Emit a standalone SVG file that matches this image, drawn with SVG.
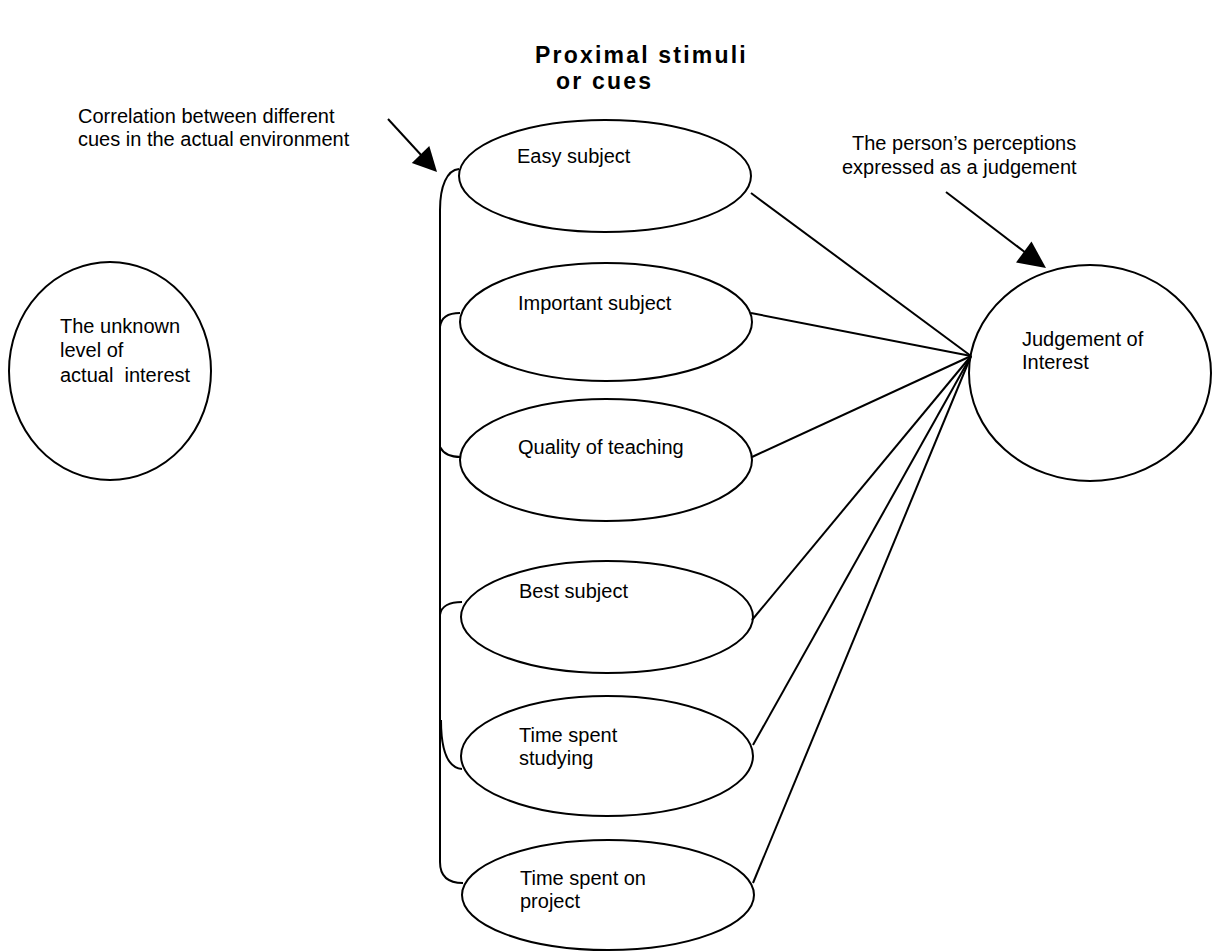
<svg xmlns="http://www.w3.org/2000/svg" width="1212" height="952" viewBox="0 0 1212 952">
<style>
.shape{fill:none;stroke:#000;stroke-width:2}
.ln{fill:none;stroke:#000;stroke-width:2}
.t{font-family:"Liberation Sans",Arial,sans-serif;font-size:20px;fill:#000}
.title{font-family:"Liberation Sans",Arial,sans-serif;font-size:23px;font-weight:bold;letter-spacing:2.2px;fill:#000}
.head{fill:#000;stroke:none}
</style>
<rect width="1212" height="952" fill="#fff"/>
<g id="title">
<text class="title" x="535" y="63">Proximal stimuli</text>
<text class="title" x="556" y="89">or cues</text>
</g>
<g id="label-correlation">
<text class="t" x="78" y="123">Correlation between different</text>
<text class="t" x="78" y="146">cues in the actual environment</text>
</g>
<g id="label-perceptions">
<text class="t" x="852" y="150">The person’s perceptions</text>
<text class="t" x="842" y="174">expressed as a judgement</text>
</g>
<g id="unknown-interest">
<ellipse class="shape" cx="110" cy="371" rx="101" ry="109"/>
<text class="t" x="60" y="333">The unknown</text>
<text class="t" x="60" y="357">level of</text>
<text class="t" x="60" y="382">actual&#160; interest</text>
</g>
<g id="easy-subject">
<ellipse class="shape" cx="605" cy="176" rx="146" ry="56"/>
<text class="t" x="517" y="163">Easy subject</text>
</g>
<g id="important-subject">
<ellipse class="shape" cx="606" cy="322" rx="146" ry="59"/>
<text class="t" x="518" y="310">Important subject</text>
</g>
<g id="quality-teaching">
<ellipse class="shape" cx="606" cy="460" rx="146" ry="61"/>
<text class="t" x="518" y="454">Quality of teaching</text>
</g>
<g id="best-subject">
<ellipse class="shape" cx="607" cy="617" rx="146" ry="56"/>
<text class="t" x="519" y="598">Best subject</text>
</g>
<g id="time-studying">
<ellipse class="shape" cx="607" cy="756" rx="146" ry="60"/>
<text class="t" x="519" y="742">Time spent</text>
<text class="t" x="519" y="765">studying</text>
</g>
<g id="time-project">
<ellipse class="shape" cx="608" cy="895" rx="146" ry="55"/>
<text class="t" x="520" y="885">Time spent on</text>
<text class="t" x="520" y="908">project</text>
</g>
<g id="judgement">
<ellipse class="shape" cx="1090" cy="373" rx="121" ry="108"/>
<text class="t" x="1022" y="346">Judgement of</text>
<text class="t" x="1022" y="369">Interest</text>
</g>
<g id="connectors">
<path class="ln" d="M440,210 C440,186 447,170 459,169 M440,210 L440,862"/>
<path class="ln" d="M440,327 C441,317 449,313 460,313"/>
<path class="ln" d="M440,447 C444,455 452,457 461,457"/>
<path class="ln" d="M440,615 C441,606 450,602 462,602"/>
<path class="ln" d="M441,720 C441,755 450,768 462,769"/>
<path class="ln" d="M440,862 C440,878 450,883 463,883"/>
<line class="ln" x1="751" y1="193" x2="971" y2="356"/>
<line class="ln" x1="751" y1="313" x2="971" y2="356"/>
<line class="ln" x1="752" y1="457" x2="971" y2="356"/>
<line class="ln" x1="752" y1="620" x2="971" y2="356"/>
<line class="ln" x1="753" y1="745" x2="971" y2="356"/>
<line class="ln" x1="753" y1="883" x2="971" y2="356"/>
<line class="ln" x1="388" y1="119" x2="422" y2="156"/>
<polygon class="head" points="437,172 411.8,163 429.3,146"/>
<line class="ln" x1="946" y1="192" x2="1026" y2="253"/>
<polygon class="head" points="1046,268 1016,262.5 1031.5,241.5"/>
</g>
</svg>
